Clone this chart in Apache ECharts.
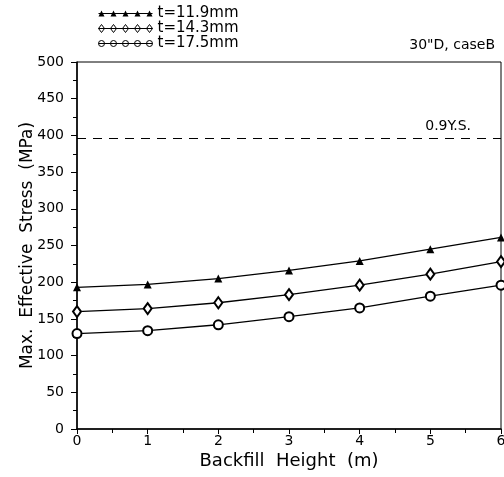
<!DOCTYPE html>
<html>
<head>
<meta charset="utf-8">
<script src="https://cdn.jsdelivr.net/npm/echarts@6/dist/echarts.min.js"></script>
<style>
  html, body { margin: 0; padding: 0; background: #fff; }
  #chart { width: 504px; height: 477px; }
</style>
</head>
<body>
<div id="chart"></div>
<script>
// Backfill height (m)
const heights = [0, 1, 2, 3, 4, 5, 6];
// Max. effective stress (MPa) per wall thickness
const stress119 = [193, 197, 205, 216, 229, 245, 261];
const stress143 = [160, 164, 172, 183, 196, 211, 228];
const stress175 = [130, 134, 142, 153, 165, 181, 196];
const seriesNames = ["t=11.9mm", "t=14.3mm", "t=17.5mm"];
const yieldLimit = 396; // 0.9 Y.S.

const font = "DejaVu Sans";

// legend icons: five markers joined by a line
const triIcon = "path://M0 4.5L54 4.5L54 5.5L0 5.5Z" +
  [3, 15, 27, 39, 51].map(c => `M${c - 3} 8L${c} 2L${c + 3} 8Z`).join("");
const diaIcon = "path://M0 5L54 5" +
  [3, 15, 27, 39, 51].map(c => `M${c} 1L${c + 3} 5L${c} 9L${c - 3} 5Z`).join("");
const cirIcon = "path://M0 5L54 5" +
  [3, 15, 27, 39, 51].map(c => `M${c - 3} 5A3 3 0 1 0 ${c + 3} 5A3 3 0 1 0 ${c - 3} 5Z`).join("");

const chart = echarts.init(document.getElementById("chart"));

const toPairs = arr => heights.map((h, i) => [h, arr[i]]);

chart.setOption({
  animation: false,
  textStyle: { fontFamily: font, color: "#000" },
  title: {
    text: '30"D, caseB',
    right: 4,
    top: 33,
    textStyle: { fontFamily: font, fontSize: 14, fontWeight: "normal", color: "#000" },
  },
  legend: {
    orient: "vertical",
    left: 98,
    top: 6,
    padding: 0,
    itemGap: 0,
    itemWidth: 54,
    itemHeight: 9,
    textStyle: { fontFamily: font, fontSize: 15, lineHeight: 15, color: "#000" },
    data: [
      { name: seriesNames[0], icon: triIcon, itemStyle: { color: "#000", borderWidth: 0 } },
      { name: seriesNames[1], icon: diaIcon, itemStyle: { color: "#fff", borderColor: "#000", borderWidth: 1 } },
      { name: seriesNames[2], icon: cirIcon, itemStyle: { color: "#fff", borderColor: "#000", borderWidth: 1 } },
    ],
  },
  grid: {
    left: 77,
    right: 3,
    top: 62,
    bottom: 48,
    outerBoundsMode: "none",
    show: true,
    borderColor: "#000",
    borderWidth: 1,
  },
  xAxis: {
    type: "value",
    min: 0,
    max: 6,
    interval: 1,
    name: "Backfill  Height  (m)",
    nameLocation: "middle",
    nameGap: 23,
    nameMoveOverlap: false,
    nameTextStyle: { fontFamily: font, fontSize: 18, color: "#000" },
    axisLine: { lineStyle: { color: "#000", width: 1.5 } },
    axisTick: { length: 5, lineStyle: { color: "#000" } },
    minorTick: { show: true, splitNumber: 2, length: 4, lineStyle: { color: "#000" } },
    axisLabel: { fontFamily: font, fontSize: 14, color: "#000", margin: 5 },
    splitLine: { show: false },
  },
  yAxis: {
    type: "value",
    min: 0,
    max: 500,
    interval: 50,
    name: "Max.  Effective  Stress  (MPa)",
    nameLocation: "middle",
    nameGap: 41,
    nameMoveOverlap: false,
    nameTextStyle: { fontFamily: font, fontSize: 17, color: "#000" },
    axisLine: { show: true, lineStyle: { color: "#000", width: 1.5 } },
    axisTick: { show: true, length: 6, lineStyle: { color: "#000" } },
    minorTick: { show: true, splitNumber: 2, length: 4, lineStyle: { color: "#000" } },
    axisLabel: { fontFamily: font, fontSize: 14, color: "#000", margin: 13 },
    splitLine: { show: false },
  },
  series: [
    {
      name: seriesNames[0],
      type: "line",
      data: toPairs(stress119),
      symbol: "triangle",
      symbolSize: 8,
      lineStyle: { color: "#000", width: 1.3 },
      itemStyle: { color: "#000" },
      markLine: {
        silent: true,
        symbol: "none",
        lineStyle: { color: "#000", type: [9, 7], width: 1 },
        label: {
          show: true,
          formatter: "0.9Y.S.",
          position: "insideEndTop",
          distance: [30, 5],
          fontFamily: font,
          fontSize: 14,
          color: "#000",
        },
        data: [{ yAxis: yieldLimit }],
      },
    },
    {
      name: seriesNames[1],
      type: "line",
      data: toPairs(stress143),
      symbol: "emptyDiamond",
      symbolSize: [8, 11],
      lineStyle: { color: "#000", width: 1.3 },
      itemStyle: { color: "#000", borderWidth: 1.3 },
    },
    {
      name: seriesNames[2],
      type: "line",
      data: toPairs(stress175),
      symbol: "emptyCircle",
      symbolSize: 9,
      lineStyle: { color: "#000", width: 1.3 },
      itemStyle: { color: "#000", borderWidth: 1.3 },
    },
  ],
});
</script>
</body>
</html>
